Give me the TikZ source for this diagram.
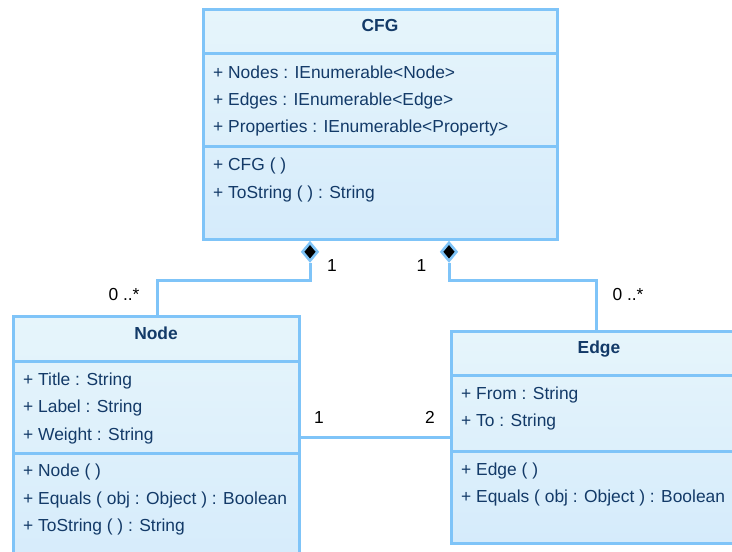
\documentclass[tikz,border=0pt]{standalone}
\usepackage{fontspec}
\setmainfont{Liberation Sans}
\usetikzlibrary{shapes.geometric}
\definecolor{umlborder}{HTML}{7FC4F8}
\definecolor{umltop}{HTML}{E6F5FB}
\definecolor{umlbottom}{HTML}{D5EBFB}
\definecolor{umltext}{HTML}{133A68}
\tikzset{
  classbox/.style={draw=umlborder, line width=3pt, top color=umltop, bottom color=umlbottom,
    rectangle, inner sep=0pt, anchor=north west},
  divider/.style={draw=umlborder, line width=3pt},
  member/.style={anchor=base west, inner sep=0pt, text=umltext, font=\fontsize{17.4}{20}\selectfont},
  classname/.style={anchor=base, inner sep=0pt, text=umltext, font=\fontsize{17.4}{20}\selectfont\bfseries},
  conn/.style={draw=umlborder, line width=3pt},
  compo/.style={diamond, draw=umlborder, line width=2.6pt, fill=black, inner sep=0pt,
    minimum width=16pt, minimum height=19pt, anchor=north},
  mult/.style={anchor=base, inner sep=0pt, text=black, font=\fontsize{17.4}{20}\selectfont}
}
\begin{document}
\begin{tikzpicture}[x=1pt, y=-1pt]
\useasboundingbox (0,0) rectangle (732,552);
\clip (0,0) rectangle (732,552);

% CFG class
\node[classbox, minimum width=354pt, minimum height=230pt] (cfg) at (202,8) {};
\draw[divider] (cfg.west |- 0,53) -- (cfg.east |- 0,53);
\draw[divider] (cfg.west |- 0,146) -- (cfg.east |- 0,146);
\node[classname] (cfgT) at (380,31.5) {CFG};
\node[member] (cfgA1) at (213,78) {+ Nodes : IEnumerable<Node>};
\node[member] (cfgA2) at (213,105) {+ Edges : IEnumerable<Edge>};
\node[member] (cfgA3) at (213,132.5) {+ Properties : IEnumerable<Property>};
\node[member] (cfgO1) at (213,170.5) {+ CFG ( )};
\node[member] (cfgO2) at (213,198) {+ ToString ( ) : String};

% Node class
\node[classbox, minimum width=286pt, minimum height=260pt] (node) at (12,315) {};
\draw[divider] (node.west |- 0,361) -- (node.east |- 0,361);
\draw[divider] (node.west |- 0,453) -- (node.east |- 0,453);
\node[classname] (nodeT) at (156,339) {Node};
\node[member] (nodeA1) at (23,385) {+ Title : String};
\node[member] (nodeA2) at (23,412.5) {+ Label : String};
\node[member] (nodeA3) at (23,440.5) {+ Weight : String};
\node[member] (nodeO1) at (23,476) {+ Node ( )};
\node[member] (nodeO2) at (23,504) {+ Equals ( obj : Object ) : Boolean};
\node[member] (nodeO3) at (23,531.5) {+ ToString ( ) : String};

% Edge class
\node[classbox, minimum width=290pt, minimum height=212pt] (edge) at (450,330) {};
\draw[divider] (edge.west |- 0,375) -- (edge.east |- 0,375);
\draw[divider] (edge.west |- 0,451) -- (edge.east |- 0,451);
\node[classname] (edgeT) at (599,353) {Edge};
\node[member] (edgeA1) at (461,399) {+ From : String};
\node[member] (edgeA2) at (461,426.5) {+ To : String};
\node[member] (edgeO1) at (461,475) {+ Edge ( )};
\node[member] (edgeO2) at (461,502.5) {+ Equals ( obj : Object ) : Boolean};

% composition diamonds on CFG
\node[compo] (dN) at ([xshift=108pt]cfg.south west) {};
\node[compo] (dE) at ([xshift=247pt]cfg.south west) {};

% connectors
\draw[conn] (dN.south) -- ++(0,18) -| ([xshift=145pt]node.north west);
\draw[conn] (dE.south) -- ++(0,18) -| (edge.north);
\draw[conn] (node.east |- 0,437) -- (edge.west |- 0,437);

% multiplicities
\node[mult] (mN0) at (124,300) {0 ..*};
\node[mult] (mN1) at (332,271) {1};
\node[mult] (mE1) at (421.5,271) {1};
\node[mult] (mE0) at (628,300) {0 ..*};
\node[mult] (mA1) at (319,423) {1};
\node[mult] (mA2) at (430,423) {2};
\end{tikzpicture}
\end{document}
